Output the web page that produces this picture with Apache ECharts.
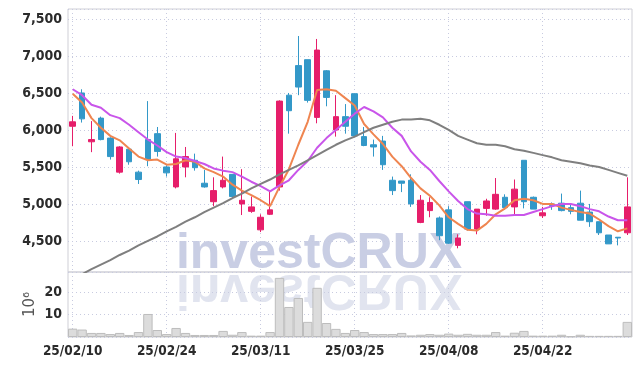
<!doctype html>
<html>
    <head>
        <meta charset="utf-8">
        <title>investCRUX candle</title>
        <style>
            html, body { margin: 0; padding: 0; background: #fff; }
            #main { width: 642px; height: 366px; }
        </style>
    </head>
    <body>
        <div id="main"></div>
        <script src="https://cdn.jsdelivr.net/npm/echarts@6/dist/echarts.min.js"></script>
        <script>
            var chart = echarts.init(document.getElementById('main'));

            var dates = [
                '25/02/10', '25/02/11', '25/02/12', '25/02/13', '25/02/14', '25/02/17', '25/02/18', '25/02/19', '25/02/20', '25/02/21',
                '25/02/24', '25/02/25', '25/02/26', '25/02/27', '25/02/28', '25/03/04', '25/03/05', '25/03/06', '25/03/07', '25/03/10',
                '25/03/11', '25/03/12', '25/03/13', '25/03/14', '25/03/17', '25/03/18', '25/03/19', '25/03/20', '25/03/21', '25/03/24',
                '25/03/25', '25/03/26', '25/03/27', '25/03/28', '25/03/31', '25/04/01', '25/04/02', '25/04/03', '25/04/04', '25/04/07',
                '25/04/08', '25/04/09', '25/04/10', '25/04/11', '25/04/14', '25/04/15', '25/04/16', '25/04/17', '25/04/18', '25/04/21',
                '25/04/22', '25/04/23', '25/04/24', '25/04/25', '25/04/28', '25/04/29', '25/04/30', '25/05/02', '25/05/07', '25/05/08'
            ];

            var open = [6050, 6500, 5840, 6160, 5890, 5430, 5740, 5430, 5870, 5950,
                5500, 5230, 5500, 5590, 5280, 5030, 5230, 5400, 5000, 4900,
                4650, 4860, 5230, 6470, 6870, 6950, 6170, 6800, 6000, 6180,
                6490, 5910, 5800, 5850, 5320, 5310, 5320, 4750, 4910, 4810,
                4920, 4440, 5030, 4660, 4940, 4930, 5090, 4960, 5590, 5090,
                4840, 5000, 5010, 4950, 5010, 4890, 4760, 4580, 4550, 4610];
            var close = [6110, 6150, 5870, 5870, 5640, 5770, 5570, 5330, 5600, 5710,
                5420, 5610, 5640, 5490, 5230, 5180, 5320, 5100, 5050, 4960,
                4820, 4920, 6390, 6260, 6580, 6400, 7080, 6440, 6180, 6050,
                5920, 5790, 5770, 5530, 5180, 5280, 5000, 5050, 5020, 4570,
                4470, 4540, 4660, 4930, 5040, 5130, 4950, 5200, 5030, 4930,
                4880, 4980, 4910, 4900, 4780, 4760, 4610, 4460, 4540, 4960];
            var low = [5780, 6100, 5700, 5860, 5600, 5410, 5530, 5270, 5510, 5640,
                5370, 5210, 5360, 5450, 5220, 4970, 5210, 5090, 4850, 4880,
                4620, 4850, 5180, 5950, 6470, 6370, 6090, 6320, 5910, 5950,
                5910, 5780, 5640, 5460, 5120, 5160, 4960, 4740, 4820, 4510,
                4460, 4400, 4640, 4590, 4840, 4920, 4920, 4850, 4940, 4930,
                4810, 4920, 4900, 4860, 4780, 4690, 4580, 4460, 4440, 4580];
            var high = [6190, 6550, 6120, 6180, 5900, 5780, 5760, 5450, 6390, 6040,
                5520, 5960, 5770, 5680, 5460, 5360, 5640, 5400, 5470, 5100,
                4860, 5180, 6400, 6500, 7270, 6950, 7230, 6810, 6470, 6350,
                6490, 6040, 5870, 5920, 5370, 5310, 5400, 5120, 5090, 4830,
                4970, 4590, 5030, 4930, 5070, 5350, 5130, 5330, 5590, 5100,
                4960, 5020, 5140, 4990, 5180, 5000, 4760, 4580, 4550, 5360];

            var ma5 = [6490, 6370, 6160, 6030, 5920, 5860, 5750, 5640, 5590, 5600,
                5530, 5540, 5590, 5570, 5480, 5430, 5370, 5260, 5180, 5120,
                5050, 4970, 5230, 5470, 5800, 6110, 6540, 6550, 6530, 6430,
                6330, 6080, 5940, 5810, 5640, 5510, 5350, 5210, 5110, 4980,
                4820, 4730, 4650, 4640, 4730, 4860, 4940, 5050, 5070, 5050,
                5000, 5000, 4950, 4920, 4890, 4870, 4790, 4700, 4630, 4670];
            var ma10 = [6550, 6470, 6340, 6300, 6200, 6160, 6070, 5970, 5870, 5790,
                5700, 5640, 5620, 5580, 5540, 5480, 5450, 5430, 5370, 5300,
                5240, 5170, 5250, 5320, 5460, 5580, 5760, 5890, 6000, 6110,
                6220, 6310, 6250, 6170, 6030, 5920, 5710, 5570, 5460, 5310,
                5170, 5040, 4930, 4870, 4860, 4840, 4840, 4850, 4850, 4890,
                4930, 4970, 5000, 5000, 4970, 4930, 4900, 4830, 4780, 4780];
            var maLong = [3990, 4050, 4120, 4180, 4240, 4310, 4370, 4440, 4500, 4560,
                4630, 4690, 4760, 4820, 4890, 4950, 5010, 5080, 5140, 5210,
                5270, 5330, 5400, 5460, 5520, 5590, 5660, 5730, 5800, 5860,
                5910, 5970, 6030, 6070, 6110, 6140, 6140, 6150, 6130, 6070,
                6000, 5920, 5870, 5820, 5800, 5800, 5780, 5740, 5720, 5690,
                5660, 5630, 5590, 5570, 5550, 5520, 5500, 5460, 5420, 5380];

            // volume, in millions of shares
            var volume = [3.7, 3.3, 1.8, 1.8, 1.3, 1.8, 0.9, 2.2, 10.2, 3.1,
                1.3, 4.0, 1.8, 0.9, 0.9, 0.9, 2.7, 1.0, 2.2, 0.6,
                0.6, 2.2, 26.2, 13.3, 17.3, 6.7, 21.8, 6.2, 3.6, 1.8,
                3.1, 2.2, 1.3, 1.3, 1.3, 1.8, 0.7, 1.0, 1.3, 1.0,
                1.5, 1.0, 1.4, 1.0, 1.0, 2.2, 0.6, 1.9, 2.7, 0.6,
                0.6, 0.6, 1.0, 0.3, 1.0, 0.5, 0.5, 0.5, 0.5, 6.7];

            var candles = [];
            for (var i = 0; i < dates.length; i++) {
                candles.push([open[i], close[i], low[i], high[i]]);
            }

            var labelFont = '"DejaVu Sans Condensed", "DejaVu Sans", sans-serif';
            var gridLine = { color: '#c8cbe0', type: [1, 3], width: 1 };
            var wmFont = 'bold 50px "Liberation Sans", sans-serif';

            chart.setOption({
                animation: false,
                backgroundColor: '#fff',
                grid: [
                    { left: 68, right: 10, top: 9, height: 263, show: true, borderColor: '#cfcfd6', borderWidth: 1 },
                    { left: 68, right: 10, top: 272, height: 65, show: true, borderColor: '#cfcfd6', borderWidth: 1 }
                ],
                graphic: [
                    {
                        type: 'text', x: 319, y: 279, silent: true,
                        style: { text: 'investCRUX', font: wmFont, fill: '#c9cee4', textAlign: 'center', textVerticalAlign: 'bottom' }
                    },
                    {
                        type: 'text', x: 319, y: 264, scaleY: -1, silent: true,
                        style: { text: 'investCRUX', font: wmFont, fill: '#e1e4ef', textAlign: 'center', textVerticalAlign: 'bottom' }
                    }
                ],
                xAxis: [
                    {
                        type: 'category', gridIndex: 0, data: dates, boundaryGap: true,
                        axisLine: { show: false }, axisTick: { show: false }, axisLabel: { show: false },
                        splitLine: { show: true, interval: 9, alignWithLabel: true, lineStyle: gridLine }
                    },
                    {
                        type: 'category', gridIndex: 1, data: dates, boundaryGap: true,
                        axisLine: { show: false }, axisTick: { show: false },
                        axisLabel: { interval: 9, color: '#2b2b2b', fontFamily: labelFont, fontWeight: 'bold', fontSize: 13.5, margin: 7 },
                        splitLine: { show: true, interval: 9, alignWithLabel: true, lineStyle: gridLine }
                    }
                ],
                yAxis: [
                    {
                        type: 'value', gridIndex: 0, min: 4080, max: 7635, splitNumber: 7,
                        axisLine: { show: false }, axisTick: { show: false },
                        axisLabel: {
                            showMinLabel: false, showMaxLabel: false, margin: 6,
                            color: '#2b2b2b', fontFamily: labelFont, fontWeight: 'bold', fontSize: 14,
                            formatter: function (v) { return v.toLocaleString('en-US'); }
                        },
                        splitLine: { show: true, lineStyle: gridLine }
                    },
                    {
                        type: 'value', gridIndex: 1, min: 0, max: 28.8, splitNumber: 3,
                        name: '10\u2076', nameLocation: 'middle', nameRotate: 90, nameGap: 30, nameMoveOverlap: false,
                        nameTextStyle: { color: '#555', fontSize: 15, fontFamily: '"DejaVu Sans", sans-serif' },
                        axisLine: { show: false }, axisTick: { show: false },
                        axisLabel: {
                            showMinLabel: false, showMaxLabel: false, margin: 6,
                            color: '#2b2b2b', fontFamily: labelFont, fontWeight: 'bold', fontSize: 14
                        },
                        splitLine: { show: true, lineStyle: gridLine }
                    }
                ],
                series: [
                    {
                        type: 'candlestick', xAxisIndex: 0, yAxisIndex: 0, data: candles, barWidth: '66%',
                        itemStyle: { color: '#e61e6a', color0: '#3398c8', borderColor: '#e61e6a', borderColor0: '#3398c8', borderWidth: 1 }
                    },
                    {
                        type: 'line', xAxisIndex: 0, yAxisIndex: 0, data: ma5, symbol: 'none',
                        lineStyle: { color: '#ef8550', width: 2 }
                    },
                    {
                        type: 'line', xAxisIndex: 0, yAxisIndex: 0, data: ma10, symbol: 'none',
                        lineStyle: { color: '#c955ea', width: 2 }
                    },
                    {
                        type: 'line', xAxisIndex: 0, yAxisIndex: 0, data: maLong, symbol: 'none',
                        lineStyle: { color: '#7f7f7f', width: 2 }
                    },
                    {
                        type: 'bar', xAxisIndex: 1, yAxisIndex: 1, data: volume, barCategoryGap: '0%',
                        itemStyle: { color: '#dcdcdc', borderColor: '#bdbdbd', borderWidth: 1 }
                    }
                ]
            });

            window.addEventListener('resize', function () {
                chart.resize();
            });
        </script>
    </body>
</html>
